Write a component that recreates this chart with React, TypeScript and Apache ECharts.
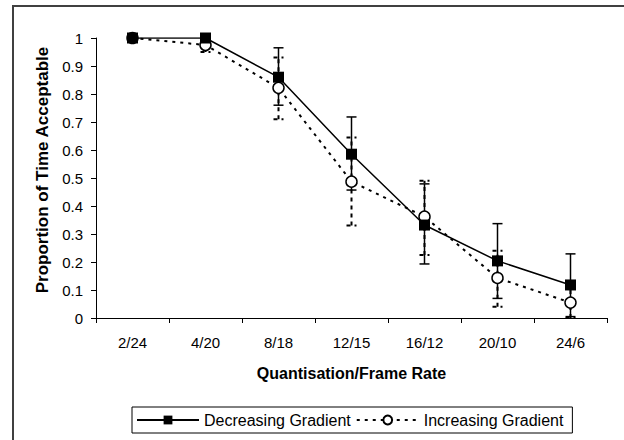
import React, { useEffect, useRef } from "react";
import * as echarts from "echarts";

const categories = ["2/24", "4/20", "8/18", "12/15", "16/12", "20/10", "24/6"];
const decreasing = [1.0, 1.0, 0.86, 0.585, 0.332, 0.204, 0.118];
const increasing = [1.0, 0.975, 0.822, 0.487, 0.362, 0.143, 0.055];
const decLow = [null, null, 0.76, 0.457, 0.193, 0.07, 0.005];
const decHigh = [null, null, 0.965, 0.718, 0.479, 0.337, 0.229];
const incLow = [null, 0.95, 0.71, 0.33, 0.225, 0.04, 0.0];
const incHigh = [null, 1.0, 0.93, 0.645, 0.49, 0.24, 0.11];

const FONT = "'Liberation Sans', Arial, sans-serif";

function errData(low: (number | null)[], high: (number | null)[]) {
  const out: any[] = [];
  low.forEach((l, i) => {
    const h = high[i];
    if (l !== null && h !== null) out.push([i, l, h]);
  });
  return out;
}

function makeErrRender(dashed: boolean) {
  return (params: any, api: any) => {
    const x = api.value(0);
    const lo = api.coord([x, api.value(1)]);
    const hi = api.coord([x, api.value(2)]);
    const half = 5;
    const style: any = {
      stroke: "#000",
      lineWidth: dashed ? 2 : 1.5,
      lineDash: dashed ? [4, 4] : null,
    };
    return {
      type: "group",
      children: [
        { type: "line", shape: { x1: lo[0], y1: lo[1], x2: hi[0], y2: hi[1] }, style },
        { type: "line", shape: { x1: lo[0] - half, y1: lo[1], x2: lo[0] + half, y2: lo[1] }, style },
        { type: "line", shape: { x1: hi[0] - half, y1: hi[1], x2: hi[0] + half, y2: hi[1] }, style },
      ],
    };
  };
}

export default function App() {
  const ref = useRef<HTMLDivElement>(null);
  useEffect(() => {
    if (!ref.current) return;
    const chart = echarts.init(ref.current, null, { renderer: "svg" });
    chart.setOption({
      animation: false,
      backgroundColor: "#fff",
      textStyle: { fontFamily: FONT },
      graphic: [
        {
          type: "rect",
          shape: { x: 13, y: 6, width: 700, height: 500 },
          style: { fill: "none", stroke: "#404040", lineWidth: 2 },
          z: -1,
        },
      ],
      grid: { left: 96, right: 17, top: 38, bottom: 122 },
      xAxis: {
        type: "category",
        data: categories,
        boundaryGap: true,
        name: "Quantisation/Frame Rate",
        nameLocation: "middle",
        nameGap: 47,
        nameTextStyle: { fontWeight: "bold", fontSize: 16, color: "#000", fontFamily: FONT },
        axisLine: { lineStyle: { color: "#000", width: 1 } },
        axisTick: { show: true, inside: false, length: 5, lineStyle: { color: "#000" } },
        axisLabel: { color: "#000", fontSize: 15, margin: 17, fontFamily: FONT },
        splitLine: { show: false },
      },
      yAxis: {
        type: "value",
        min: 0,
        max: 1,
        interval: 0.1,
        name: "Proportion of Time Acceptable",
        nameLocation: "middle",
        nameGap: 42,
        nameTextStyle: {
          fontWeight: "bold",
          fontSize: 17,
          color: "#000",
          fontFamily: FONT,
          padding: [0, 0, 0, 16],
        },
        axisLine: { show: true, lineStyle: { color: "#000", width: 1 } },
        axisTick: { show: true, inside: false, length: 5, lineStyle: { color: "#000" } },
        axisLabel: { color: "#000", fontSize: 15, margin: 13, fontFamily: FONT },
        splitLine: { show: false },
      },
      legend: {
        show: true,
        left: 132,
        top: 407,
        padding: [5, 9, 5, 4],
        itemGap: 5,
        itemWidth: 62,
        itemHeight: 11,
        borderColor: "#000",
        borderWidth: 1,
        textStyle: { color: "#000", fontSize: 16, fontFamily: FONT },
        data: ["Decreasing Gradient", "Increasing Gradient"],
      },
      series: [
        {
          type: "custom",
          name: "decErr",
          renderItem: makeErrRender(false),
          data: errData(decLow, decHigh),
          z: 1,
          silent: true,
        },
        {
          type: "custom",
          name: "incErr",
          renderItem: makeErrRender(true),
          data: errData(incLow, incHigh),
          z: 1,
          silent: true,
        },
        {
          type: "line",
          name: "Increasing Gradient",
          data: increasing,
          symbol: "circle",
          symbolSize: 11,
          lineStyle: { color: "#000", width: 2, type: [3, 5] },
          itemStyle: { color: "#fff", borderColor: "#000", borderWidth: 1.5 },
          z: 3,
        },
        {
          type: "line",
          name: "Decreasing Gradient",
          data: decreasing,
          symbol: "rect",
          symbolSize: 11,
          lineStyle: { color: "#000", width: 1.5, type: "solid" },
          itemStyle: { color: "#000", borderColor: "#000", borderWidth: 0 },
          z: 4,
        },
      ],
    });
    return () => chart.dispose();
  }, []);
  return (
    <div
      ref={ref}
      style={{ position: "fixed", left: 0, top: 0, width: 624, height: 440 }}
    />
  );
}
